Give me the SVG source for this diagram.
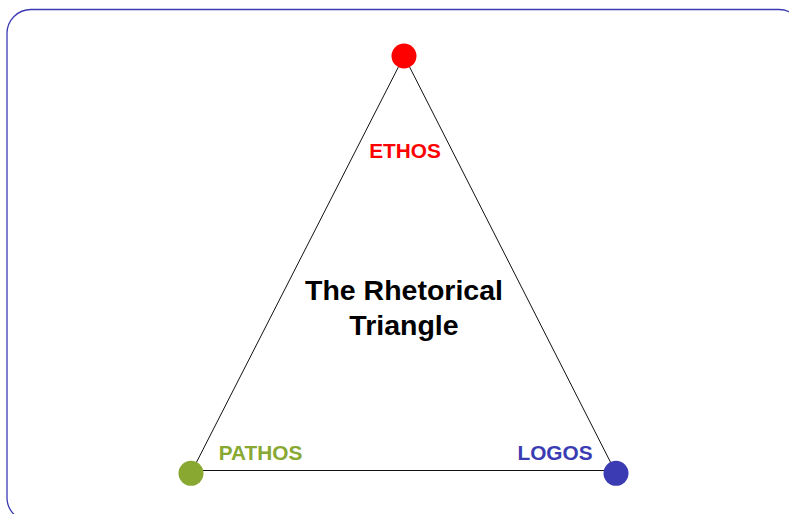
<svg xmlns="http://www.w3.org/2000/svg" width="789" height="514" viewBox="0 0 789 514">
  <style>
    .lbl { font-family: "Liberation Sans", Arial, sans-serif; font-weight: bold; font-size: 20.8px; text-anchor: middle; }
    .title { font-family: "Liberation Sans", Arial, sans-serif; font-weight: bold; font-size: 28.5px; text-anchor: middle; fill: #000; }
    .edge { stroke: #111; stroke-width: 1; fill: none; }
  </style>
  <rect x="0" y="0" width="789" height="514" fill="#fff"/>
  <rect id="frame" x="7" y="9.5" width="796" height="512" rx="24" ry="24" fill="#fff" stroke="#3b3bb3" stroke-width="1.3"/>
  <g id="connectors">
    <line class="edge" x1="404" y1="56" x2="191" y2="473"/>
    <line class="edge" x1="404" y1="56" x2="616" y2="473"/>
    <line class="edge" x1="191" y1="470.5" x2="616" y2="470.5"/>
  </g>
  <g id="ethos">
    <circle cx="404" cy="56" r="12.5" fill="#ff0000"/>
    <text class="lbl" x="405" y="157.5" fill="#ff0000">ETHOS</text>
  </g>
  <g id="pathos">
    <circle cx="191" cy="473.3" r="12.5" fill="#88a832"/>
    <text class="lbl" x="260.5" y="459.5" fill="#88a832">PATHOS</text>
  </g>
  <g id="logos">
    <circle cx="616" cy="473.3" r="12.5" fill="#3b3cb4"/>
    <text class="lbl" x="555" y="459.5" fill="#3b3cb4">LOGOS</text>
  </g>
  <g id="title">
    <text class="title" x="404" y="299.5">The Rhetorical</text>
    <text class="title" x="404" y="334.5">Triangle</text>
  </g>
</svg>
